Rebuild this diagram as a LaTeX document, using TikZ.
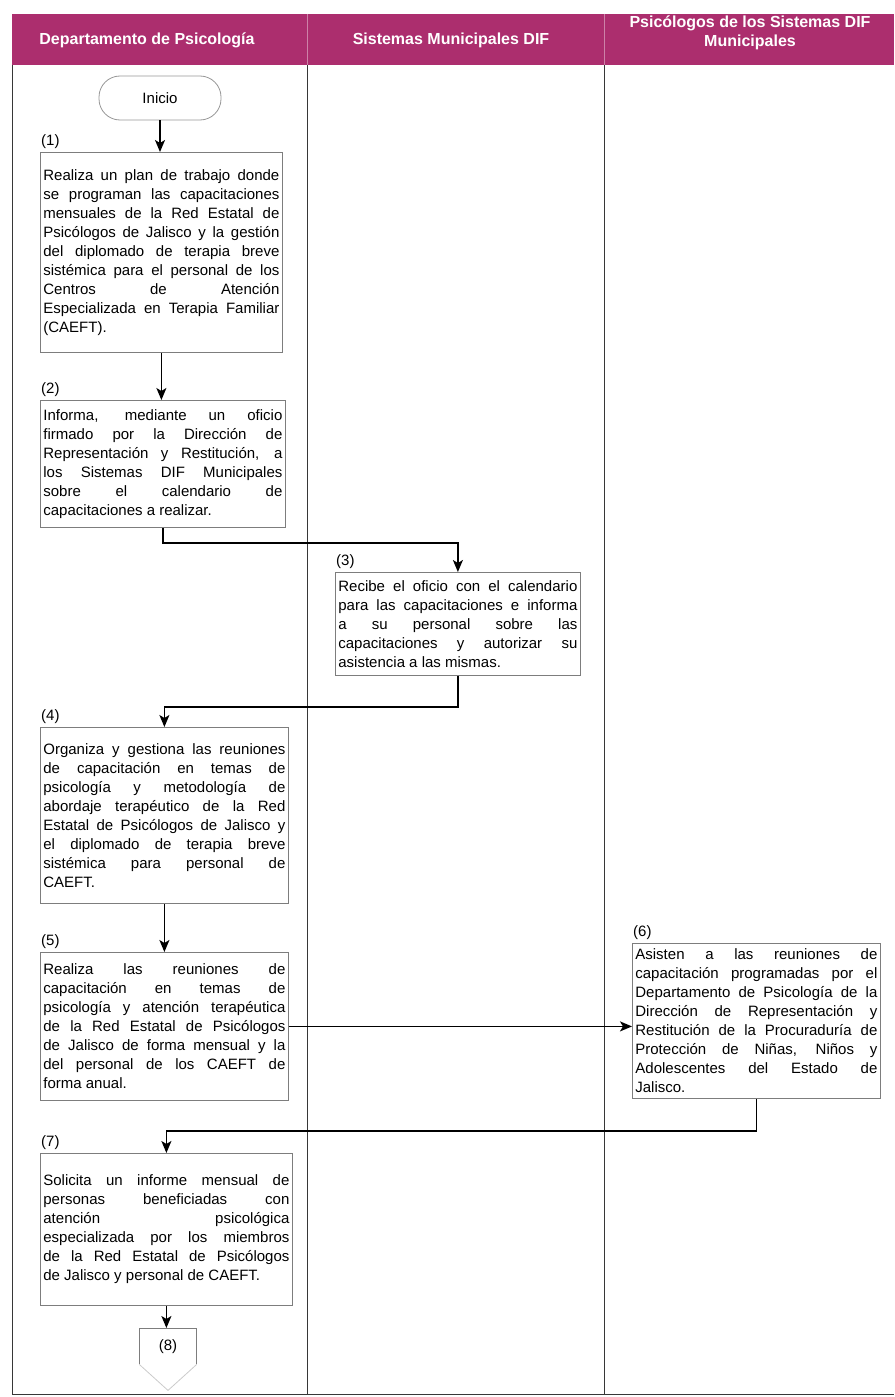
\documentclass[tikz,border=0pt]{standalone}
\usepackage{fontspec}
\setmainfont{Liberation Sans}
\usetikzlibrary{arrows.meta}

\definecolor{lanehead}{RGB}{172,46,110}
\definecolor{boxgray}{RGB}{125,125,125}
\definecolor{lanegray}{RGB}{55,55,55}

\newcommand\boxfont{\fontsize{15}{19}\selectfont\tolerance=10000\hyphenpenalty=10000\relax}

\tikzset{
  lanetitle/.style={text=white, font=\bfseries\fontsize{16}{19}\selectfont, align=center, inner sep=0pt},
  stepbox/.style={draw=boxgray, line width=0.8pt, fill=white, inner xsep=3pt, inner ysep=2pt,
    align=justify, font=\boxfont, anchor=north west},
  steplabel/.style={font=\boxfont, anchor=south west, inner sep=1pt, yshift=2pt},
  flow/.style={line width=1.6pt, -{Stealth[length=12pt,width=10pt,inset=3pt]}},
}

\begin{document}
\begin{tikzpicture}[x=1pt, y=-1pt]
\def\xframe{12};
\def\xlaneA{307};
\def\xlaneB{604};
\def\xend{894};

\def\yhtop{14};
\def\yhbot{65};
\def\ybot{1394};

\useasboundingbox (0,0) rectangle (894,1397);

% lanes
\fill[lanehead] (\xframe,\yhtop) rectangle (\xend,\yhbot);
\draw[lanehead!60!white, line width=0.6pt] (\xlaneA,\yhtop) -- (\xlaneA,\yhbot) (\xlaneB,\yhtop) -- (\xlaneB,\yhbot);
\draw[lanegray, line width=1pt] (\xframe,\yhbot) -- (\xframe,\ybot) -- (\xend,\ybot);
\draw[lanegray, line width=1pt] (\xlaneA,\yhbot) -- (\xlaneA,\ybot);
\draw[lanegray, line width=1pt] (\xlaneB,\yhbot) -- (\xlaneB,\ybot);

\node[lanetitle] (dep) at (147,40) {Departamento de Psicología};
\node[lanetitle] (mun) at (451,40) {Sistemas Municipales DIF};
\node[lanetitle] (psi) at (750,33) {Psicólogos de los Sistemas DIF\\Municipales};

% steps
\node[draw=boxgray!80, line width=0.8pt, rounded corners=21pt, minimum width=122pt, minimum height=44pt, font=\boxfont] (inicio) at (160,98) {Inicio};

\node[stepbox, text width=236pt, minimum height=200pt] (b1) at (40,152) {Realiza un plan de trabajo donde\linebreak se programan las capacitaciones\linebreak mensuales de la Red Estatal de\linebreak Psicólogos de Jalisco y la gestión\linebreak del diplomado de terapia breve\linebreak sistémica para el personal de los\linebreak Centros de Atención\linebreak Especializada en Terapia Familiar\linebreak (CAEFT).};
\node[steplabel] (n1) at (b1.north west) {(1)};

\node[stepbox, text width=239pt, minimum height=127pt] (b2) at (40,400) {Informa, mediante un oficio\linebreak firmado por la Dirección de\linebreak Representación y Restitución, a\linebreak los Sistemas DIF Municipales\linebreak sobre el calendario de\linebreak capacitaciones a realizar.};
\node[steplabel] (n2) at (b2.north west) {(2)};

\node[stepbox, text width=239pt, minimum height=103pt] (b3) at (335,572) {Recibe el oficio con el calendario\linebreak para las capacitaciones e informa\linebreak a su personal sobre las\linebreak capacitaciones y autorizar su\linebreak asistencia a las mismas.};
\node[steplabel] (n3) at (b3.north west) {(3)};

\node[stepbox, text width=242pt, minimum height=176pt] (b4) at (40,727) {Organiza y gestiona las reuniones\linebreak de capacitación en temas de\linebreak psicología y metodología de\linebreak abordaje terapéutico de la Red\linebreak Estatal de Psicólogos de Jalisco y\linebreak el diplomado de terapia breve\linebreak sistémica para personal de\linebreak CAEFT.};
\node[steplabel] (n4) at (b4.north west) {(4)};

\node[stepbox, text width=242pt, minimum height=148pt] (b5) at (40,952) {Realiza las reuniones de\linebreak capacitación en temas de\linebreak psicología y atención terapéutica\linebreak de la Red Estatal de Psicólogos\linebreak de Jalisco de forma mensual y la\linebreak del personal de los CAEFT de\linebreak forma anual.};
\node[steplabel] (n5) at (b5.north west) {(5)};

\node[stepbox, text width=242pt, minimum height=155pt] (b6) at (632,943) {Asisten a las reuniones de\linebreak capacitación programadas por el\linebreak Departamento de Psicología de la\linebreak Dirección de Representación y\linebreak Restitución de la Procuraduría de\linebreak Protección de Niñas, Niños y\linebreak Adolescentes del Estado de\linebreak Jalisco.};
\node[steplabel] (n6) at (b6.north west) {(6)};

\node[stepbox, text width=246pt, minimum height=152pt] (b7) at (40,1153) {Solicita un informe mensual de\linebreak personas beneficiadas con\linebreak atención psicológica\linebreak especializada por los miembros\linebreak de la Red Estatal de Psicólogos\linebreak de Jalisco y personal de CAEFT.};
\node[steplabel] (n7) at (b7.north west) {(7)};

% off-page connector
\node[font=\boxfont, minimum width=57pt, minimum height=36pt, inner sep=0pt, anchor=north] (b8) at (168,1328) {(8)};
\draw[boxgray, line width=0.8pt] (b8.south west) -- (b8.north west) -- (b8.north east) -- (b8.south east);
\draw[boxgray!40, line width=0.8pt] (b8.south west) -- ([yshift=-26pt]b8.south) -- (b8.south east);

% connectors
\draw[flow] (inicio.south) -- (inicio.south |- b1.north);
\draw[flow] (b1.south) -- (b1.south |- b2.north);
\draw[flow] (b2.south) -- ++(0,15) -| (b3.north);
\draw[flow] (b3.south) -- ++(0,31) -| (b4.north);
\draw[flow] (b4.south) -- (b5.north);
\draw[flow] (b5.east) -- (b5.east -| b6.west);
\draw[flow] (b6.south) -- ++(0,32) -| (b7.north);
\draw[flow] (b7.south) -- (b7.south |- b8.north);

\end{tikzpicture}
\end{document}
